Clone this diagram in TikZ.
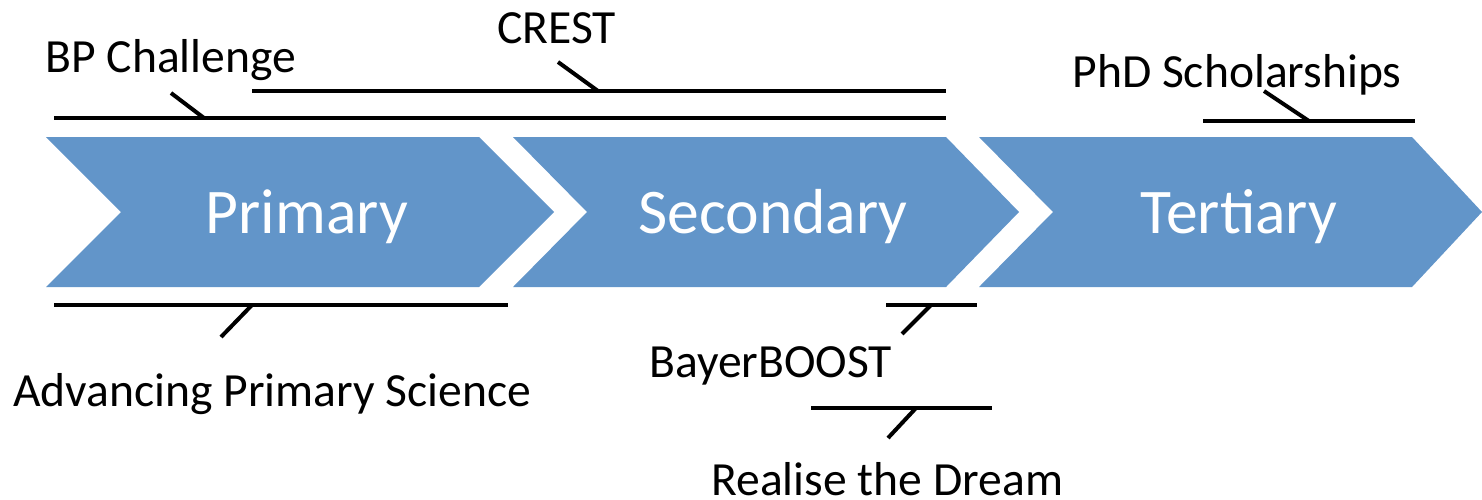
\documentclass[tikz,border=0pt]{standalone}
\usepackage{fontspec}
\setmainfont{Carlito}
\definecolor{chevblue}{RGB}{98,149,201}
\begin{document}
\begin{tikzpicture}[x=0.5pt,y=-0.5pt,
  chev/.style={fill=chevblue,draw=none},
  stagetext/.style={text=white,font=\fontsize{31.8}{38}\selectfont,inner sep=0pt,anchor=base},
  lbl/.style={font=\fontsize{23.8}{28}\selectfont,inner sep=0pt,anchor=base west},
  bar/.style={line width=2pt},
  tick/.style={line width=2pt}]
\useasboundingbox (0,0) rectangle (1482,499);
% chevrons
\fill[chev] (46,137) -- (479,137) -- (554,212) -- (479,287) -- (46,287) -- (121,212) -- cycle;
\fill[chev] (513,137) -- (946,137) -- (1019,212) -- (946,287) -- (513,287) -- (587,212) -- cycle;
\fill[chev] (979,137) -- (1412,137) -- (1482,212) -- (1412,287) -- (979,287) -- (1053,212) -- cycle;
\node[stagetext] (primary) at (307,233) {Primary};
\node[stagetext] (secondary) at (773,233) {Secondary};
\node[stagetext] (tertiary) at (1239,233) {Tertiary};
% labels
\node[lbl] (bp) at (45,72) {BP Challenge};
\node[lbl] (crest) at (497,43) {CREST};
\node[lbl] (phd) at (1072,87) {PhD Scholarships};
\node[lbl] (aps) at (13,406) {Advancing Primary Science};
\node[lbl] (bayer) at (649,377) {BayerBOOST};
\node[lbl] (rtd) at (711,495) {Realise the Dream};
% bar end points
\coordinate (bpA) at (54,118);   \coordinate (bpB) at (946,118);
\coordinate (crA) at (252,91);   \coordinate (crB) at (946,91);
\coordinate (phA) at (1203,121); \coordinate (phB) at (1415,121);
\coordinate (apA) at (54,305);   \coordinate (apB) at (508,305);
\coordinate (baA) at (886,305);  \coordinate (baB) at (977,305);
\coordinate (rdA) at (811,408);  \coordinate (rdB) at (992,408);
% tick end points
\coordinate (bpT) at (171,93);   \coordinate (bpM) at (204,118);
\coordinate (crT) at (558,62);   \coordinate (crM) at (598,91);
\coordinate (phT) at (1264,91);  \coordinate (phM) at (1309,121);
\coordinate (apT) at (221,337);  \coordinate (apM) at (252,305);
\coordinate (baT) at (902,334);  \coordinate (baM) at (931,305);
\coordinate (rdT) at (888,438);  \coordinate (rdM) at (916,408);
\draw[bar] (bpA) -- (bpB);
\draw[bar] (crA) -- (crB);
\draw[bar] (phA) -- (phB);
\draw[bar] (apA) -- (apB);
\draw[bar] (baA) -- (baB);
\draw[bar] (rdA) -- (rdB);
\draw[tick] (bpT) -- (bpM);
\draw[tick] (crT) -- (crM);
\draw[tick] (phT) -- (phM);
\draw[tick] (apT) -- (apM);
\draw[tick] (baT) -- (baM);
\draw[tick] (rdT) -- (rdM);
\end{tikzpicture}
\end{document}
